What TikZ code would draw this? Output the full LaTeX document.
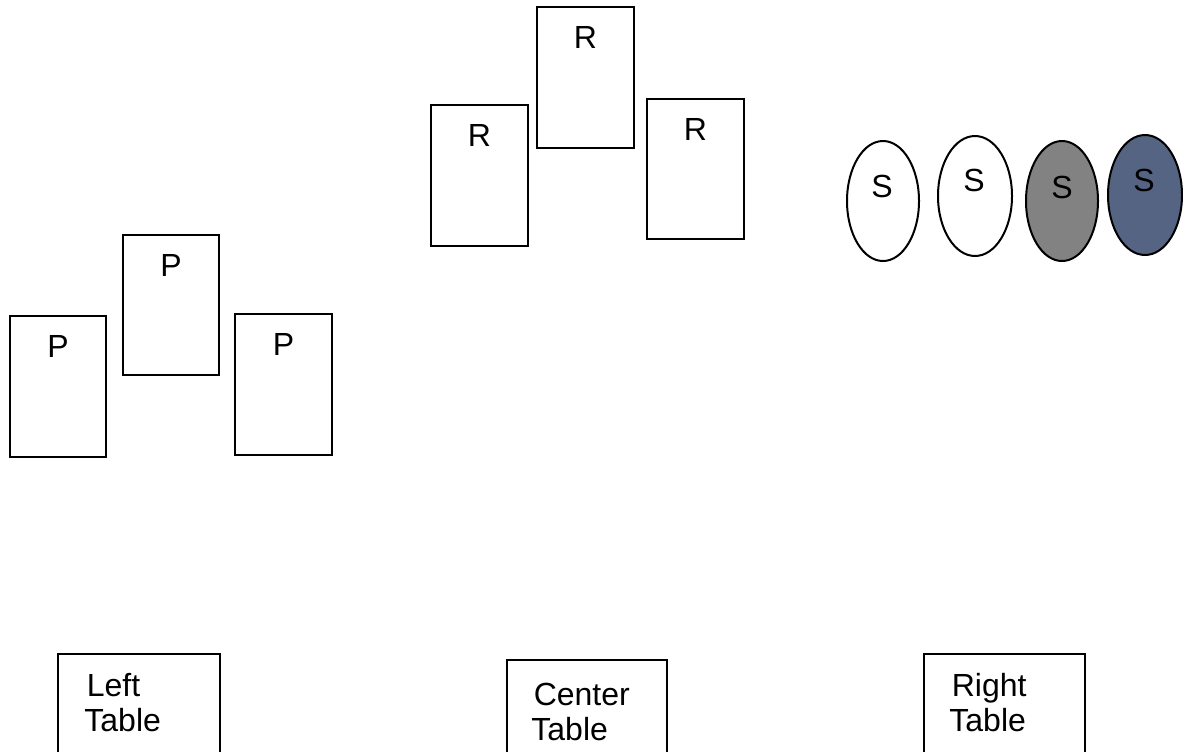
\documentclass[tikz,border=0pt]{standalone}
\usepackage{fontspec}
\setmainfont{Liberation Sans}
\usepackage{tikz}
\usetikzlibrary{shapes.geometric}
\definecolor{seatgray}{RGB}{130,130,130}
\definecolor{seatblue}{RGB}{84,100,130}
\tikzset{
    card/.style={draw, line width=1pt},
    lbl/.style={inner sep=0pt, font=\fontsize{16}{17.5}\selectfont},
    seat/.style={ellipse, draw, line width=1pt, inner sep=0pt,
        minimum width=#1, minimum height=60pt},
    seat/.default=36pt
}
\newcommand{\card}[6] {
	\draw[card] (#2,#3) rectangle (#4,#5);
	\node[lbl] (#1) at ({(#2+#4)/2},#3+30) {#6};
}
\newcommand{\tablebox}[7] {
	\draw[card] (#2,#3) rectangle (#4,760);
	\node[lbl, align=left, anchor=north west] (#1) at (#5,#6) {\hspace{1.2pt}#7\\Table};
}
\begin{document}
\begin{tikzpicture}[x=0.5pt, y=-0.5pt]
		\useasboundingbox (0,0) rectangle (1183,751);

		% P cards
		\card{p1}{10}{316}{106}{457}{P}
		\card{p2}{123}{235}{219}{375}{P}
		\card{p3}{235}{314}{332}{455}{P}

		% R cards
		\card{r1}{431}{105}{528}{246}{R}
		\card{r2}{537}{7}{634}{148}{R}
		\card{r3}{647}{99}{744}{239}{R}

		% S seats
		\node[seat] (s1) at (883,201) {};
		\node[seat=37pt] (s2) at (975,196) {};
		\node[seat, fill=seatgray] (s3) at (1062,201) {};
		\node[seat=37pt, fill=seatblue] (s4) at (1145,195) {};
		\node[lbl] (s1label) at (882,186) {S};
		\node[lbl] (s2label) at (974,180) {S};
		\node[lbl] (s3label) at (1062,187) {S};
		\node[lbl] (s4label) at (1144,180) {S};

		% Tables
		\tablebox{lefttable}{58}{654}{220}{84}{673}{Left}
		\tablebox{centertable}{507}{660}{667}{531}{683}{Center}
		\tablebox{righttable}{924}{654}{1085}{949}{673}{Right}

	\end{tikzpicture}
\end{document}
